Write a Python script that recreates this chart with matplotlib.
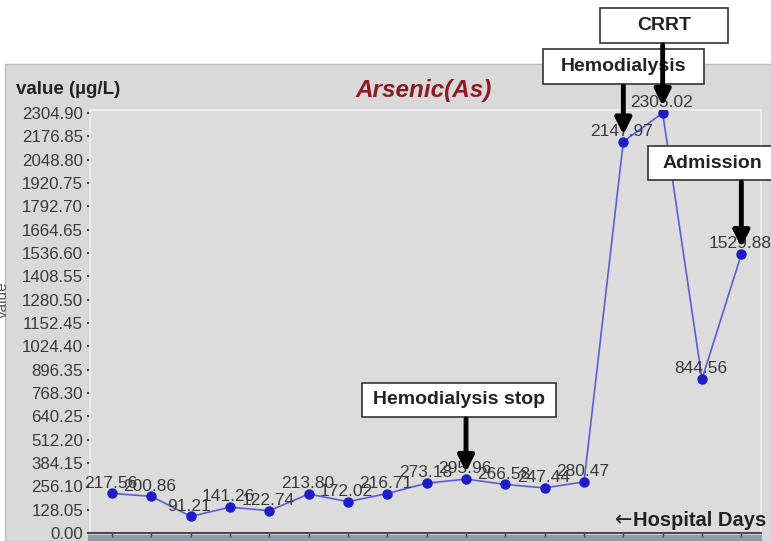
import matplotlib
matplotlib.use("Agg")
import matplotlib.pyplot as plt
from matplotlib.patches import Rectangle

# data
values = [217.56, 200.86, 91.21, 141.26, 122.74, 213.80, 172.02, 216.71,
          273.18, 295.96, 266.58, 247.44, 280.47, 2147.97, 2305.02, 844.56, 1529.88]
y_ticks = [0.00, 128.05, 256.10, 384.15, 512.20, 640.25, 768.30, 896.35,
           1024.40, 1152.45, 1280.50, 1408.55, 1536.60, 1664.65, 1792.70,
           1920.75, 2048.80, 2176.85, 2304.90]
events = ["Hemodialysis stop", "Hemodialysis", "CRRT", "Admission"]
event_idx = [9, 13, 14, 16]

W, H = 771, 541
NARROW = ["Liberation Sans Narrow", "Liberation Sans", "DejaVu Sans"]
BOLD = ["Liberation Sans", "DejaVu Sans"]

fig = plt.figure(figsize=(W / 100, H / 100), dpi=100)
fig.patch.set_facecolor("white")


def fx(px):
    return px / W


def fy(py):
    # py measured from the top of the image
    return 1 - py / H


# grey panel behind the chart
fig.patches.append(Rectangle((fx(5), 0), fx(W - 5), fy(64), transform=fig.transFigure,
                             facecolor="#d9d9d9", edgecolor="#bdbdbd", lw=1, zorder=-2))
# slate band under the x axis
fig.patches.append(Rectangle((fx(88), 0), fx(762 - 88), fy(535), transform=fig.transFigure,
                             facecolor="#8e9aa6", edgecolor="none", zorder=-1))

left, right, top, bottom = 90, 761, 110, 533
ax = fig.add_axes([fx(left), fy(bottom), fx(right - left), fy(top) - fy(bottom)])
ax.set_zorder(1)
ax.set_facecolor("#dcdcdc")

x = list(range(len(values)))
ax.plot(x, values, color="#5c5cd8", lw=1.2, zorder=3)
ax.plot(x, values, "o", color="#1c1cc8", ms=6.5, zorder=4)

ax.set_xlim(-0.56, 16.5)
ax.set_ylim(0, 2304.90 * (bottom - top) / (bottom - 113))

ax.set_yticks(y_ticks)
ax.set_yticklabels([f"{t:.2f}" for t in y_ticks], family=NARROW, fontsize=12.2, color="#3a3a3a")
ax.tick_params(axis="y", length=2.5, width=1.5, color="#444444", pad=2.5)
ax.set_xticks(x)
ax.set_xticklabels([])
ax.tick_params(axis="x", direction="out", length=3, width=1, color="#444444")

for s in ["left", "top", "right"]:
    ax.spines[s].set_color("#efefef")
    ax.spines[s].set_linewidth(1.2)
ax.spines["bottom"].set_color("#4a4a4a")
ax.spines["bottom"].set_linewidth(1.5)

# value labels above each point
for i, v in zip(x, values):
    ax.annotate(f"{v:.2f}", (i, v), xytext=(-1, 2), textcoords="offset points",
                ha="center", va="bottom", family=NARROW, fontsize=12.5,
                color="#3a3a3a", zorder=5)

# titles and axis texts
fig.text(fx(424), fy(91), "Arsenic(As)", ha="center", va="center", fontsize=17.5,
         fontweight="bold", fontstyle="italic", color="#8b1c24", family=BOLD)
fig.text(fx(16), fy(90), "value (µg/L)", ha="left", va="center", fontsize=13.5,
         fontweight="bold", color="#222222", family=BOLD)
fig.text(fx(766), fy(521), "Hospital Days", ha="right", va="center", fontsize=14.5,
         fontweight="bold", color="#222222", family=BOLD, zorder=3)
fig.text(fx(633), fy(520), "←", ha="right", va="center", fontsize=15,
         color="#222222", family=["DejaVu Sans"], zorder=3)
fig.text(fx(3), fy(300), "value", ha="center", va="center", rotation=90, fontsize=11,
         color="#555555", family=BOLD)

# event boxes (left, top, right, bottom in image pixels) and arrows
boxes = [(362, 383, 556, 417), (543, 49, 704, 84), (600, 8, 728, 43), (648, 146, 774, 180)]
text_x = [459, 623, 664, 712]
for name, i, (bl, bt, br, bb), tx in zip(events, event_idx, boxes, text_x):
    ax.add_patch(Rectangle((fx(bl), fy(bb)), fx(br - bl), fy(bt) - fy(bb),
                           transform=fig.transFigure, facecolor="white",
                           edgecolor="#333333", lw=1.2, zorder=6, clip_on=False))
    ax.text(fx(tx), fy((bt + bb) / 2), name, transform=fig.transFigure,
            ha="center", va="center", fontsize=14, fontweight="bold",
            color="#222222", family=BOLD, zorder=7, clip_on=False)
    ax.annotate("", xy=(i, values[i]), xycoords="data",
                xytext=(i, H - bb - 2), textcoords=("data", "figure pixels"),
                arrowprops=dict(arrowstyle="-|>", lw=3.5, color="black",
                                mutation_scale=24, shrinkA=0, shrinkB=5),
                annotation_clip=False, zorder=8)

fig.savefig("out.png", dpi=100)
